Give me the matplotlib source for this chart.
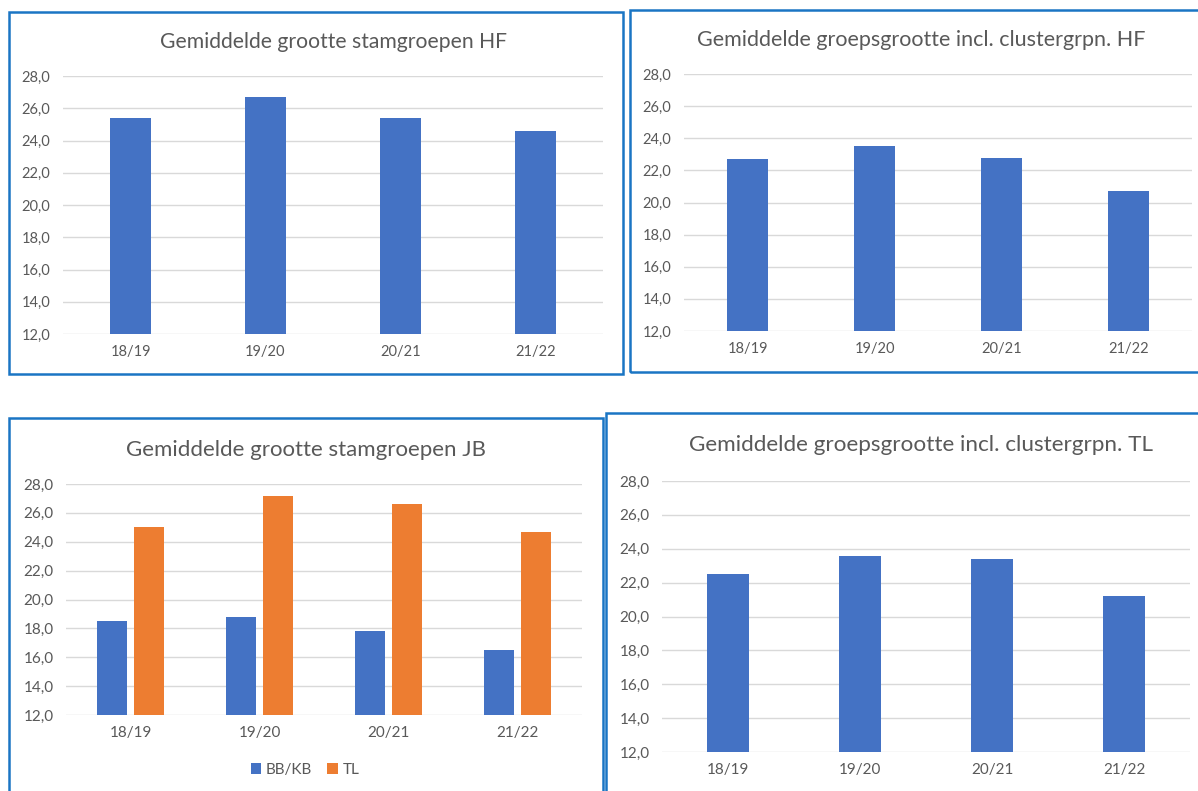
import matplotlib
matplotlib.use("Agg")
import matplotlib.pyplot as plt
from matplotlib.patches import Rectangle
from matplotlib.ticker import FuncFormatter
import numpy as np

plt.rcParams['font.family'] = ['Lato', 'DejaVu Sans']

# data
years = ["18/19", "19/20", "20/21", "21/22"]
stam_hf = [25.4, 26.7, 25.4, 24.6]
groep_hf = [22.7, 23.5, 22.8, 20.7]
stam_jb_bbkb = [18.5, 18.8, 17.8, 16.5]
stam_jb_tl = [25.0, 27.2, 26.6, 24.7]
groep_tl = [22.5, 23.6, 23.4, 21.2]

BLUE = '#4472C4'
ORANGE = '#ED7D31'
BORDER = '#1a75c4'
GREY = '#595959'

W, H = 1198, 791
fig = plt.figure(figsize=(W / 100, H / 100), dpi=100)


def px_axes(x0, x1, ytop, ybot):
    return fig.add_axes([x0 / W, 1 - ybot / H, (x1 - x0) / W, (ybot - ytop) / H])


def border(x0, y0, x1, y1):
    fig.add_artist(Rectangle((x0 / W, 1 - y1 / H), (x1 - x0) / W, (y1 - y0) / H,
                             transform=fig.transFigure, fill=False,
                             ec=BORDER, lw=1.8))


def style(ax, fs=10.5):
    ax.set_ylim(12, 28)
    ax.set_xlim(-0.5, 3.5)
    ax.set_yticks(np.arange(12, 28.1, 2))
    ax.yaxis.set_major_formatter(FuncFormatter(lambda v, p: f"{v:.1f}".replace('.', ',')))
    ax.set_xticks(range(len(years)))
    ax.set_xticklabels(years)
    ax.grid(axis='y', color='#d9d9d9', lw=1)
    ax.set_axisbelow(True)
    for s in ax.spines.values():
        s.set_visible(False)
    ax.tick_params(length=0, colors=GREY, labelsize=fs)
    ax.tick_params(axis='x', pad=8)
    ax.tick_params(axis='y', pad=9)


x = np.arange(len(years))

# top left
border(9, 12, 623, 374)
ax1 = px_axes(63, 603, 76, 334)
ax1.bar(x, stam_hf, width=0.31, color=BLUE, bottom=0)
style(ax1, 10.5)
fig.text(334 / W, 1 - 42 / H, "Gemiddelde grootte stamgroepen HF",
         ha='center', va='center', fontsize=15.2, color=GREY)

# top right
border(630, 10, 1205, 372)
ax2 = px_axes(684, 1192, 74, 331)
ax2.bar(x, groep_hf, width=0.33, color=BLUE)
style(ax2, 10.5)
fig.text(921 / W, 1 - 40 / H, "Gemiddelde groepsgrootte incl. clustergrpn. HF",
         ha='center', va='center', fontsize=15.5, color=GREY)

# bottom left
border(9, 418, 603, 800)
ax3 = px_axes(66, 582, 484, 715)
ax3.bar(x - 0.145, stam_jb_bbkb, width=0.23, color=BLUE, label='BB/KB')
ax3.bar(x + 0.145, stam_jb_tl, width=0.23, color=ORANGE, label='TL')
style(ax3, 11)
fig.text(306 / W, 1 - 450 / H, "Gemiddelde grootte stamgroepen JB",
         ha='center', va='center', fontsize=16, color=GREY)
leg = fig.legend(*ax3.get_legend_handles_labels(), loc='center',
                 bbox_to_anchor=(305 / W, 1 - 770 / H), ncol=2, frameon=False,
                 handlelength=0.7, handleheight=0.7, handletextpad=0.3,
                 columnspacing=1.0, fontsize=11)
for t in leg.get_texts():
    t.set_color(GREY)

# bottom right
border(606, 413, 1205, 800)
ax4 = px_axes(662, 1190, 481, 752)
ax4.bar(x, groep_tl, width=0.32, color=BLUE)
style(ax4, 11)
fig.text(921 / W, 1 - 445 / H, "Gemiddelde groepsgrootte incl. clustergrpn. TL",
         ha='center', va='center', fontsize=16.2, color=GREY)

fig.savefig("out.png", dpi=100, facecolor='white')
